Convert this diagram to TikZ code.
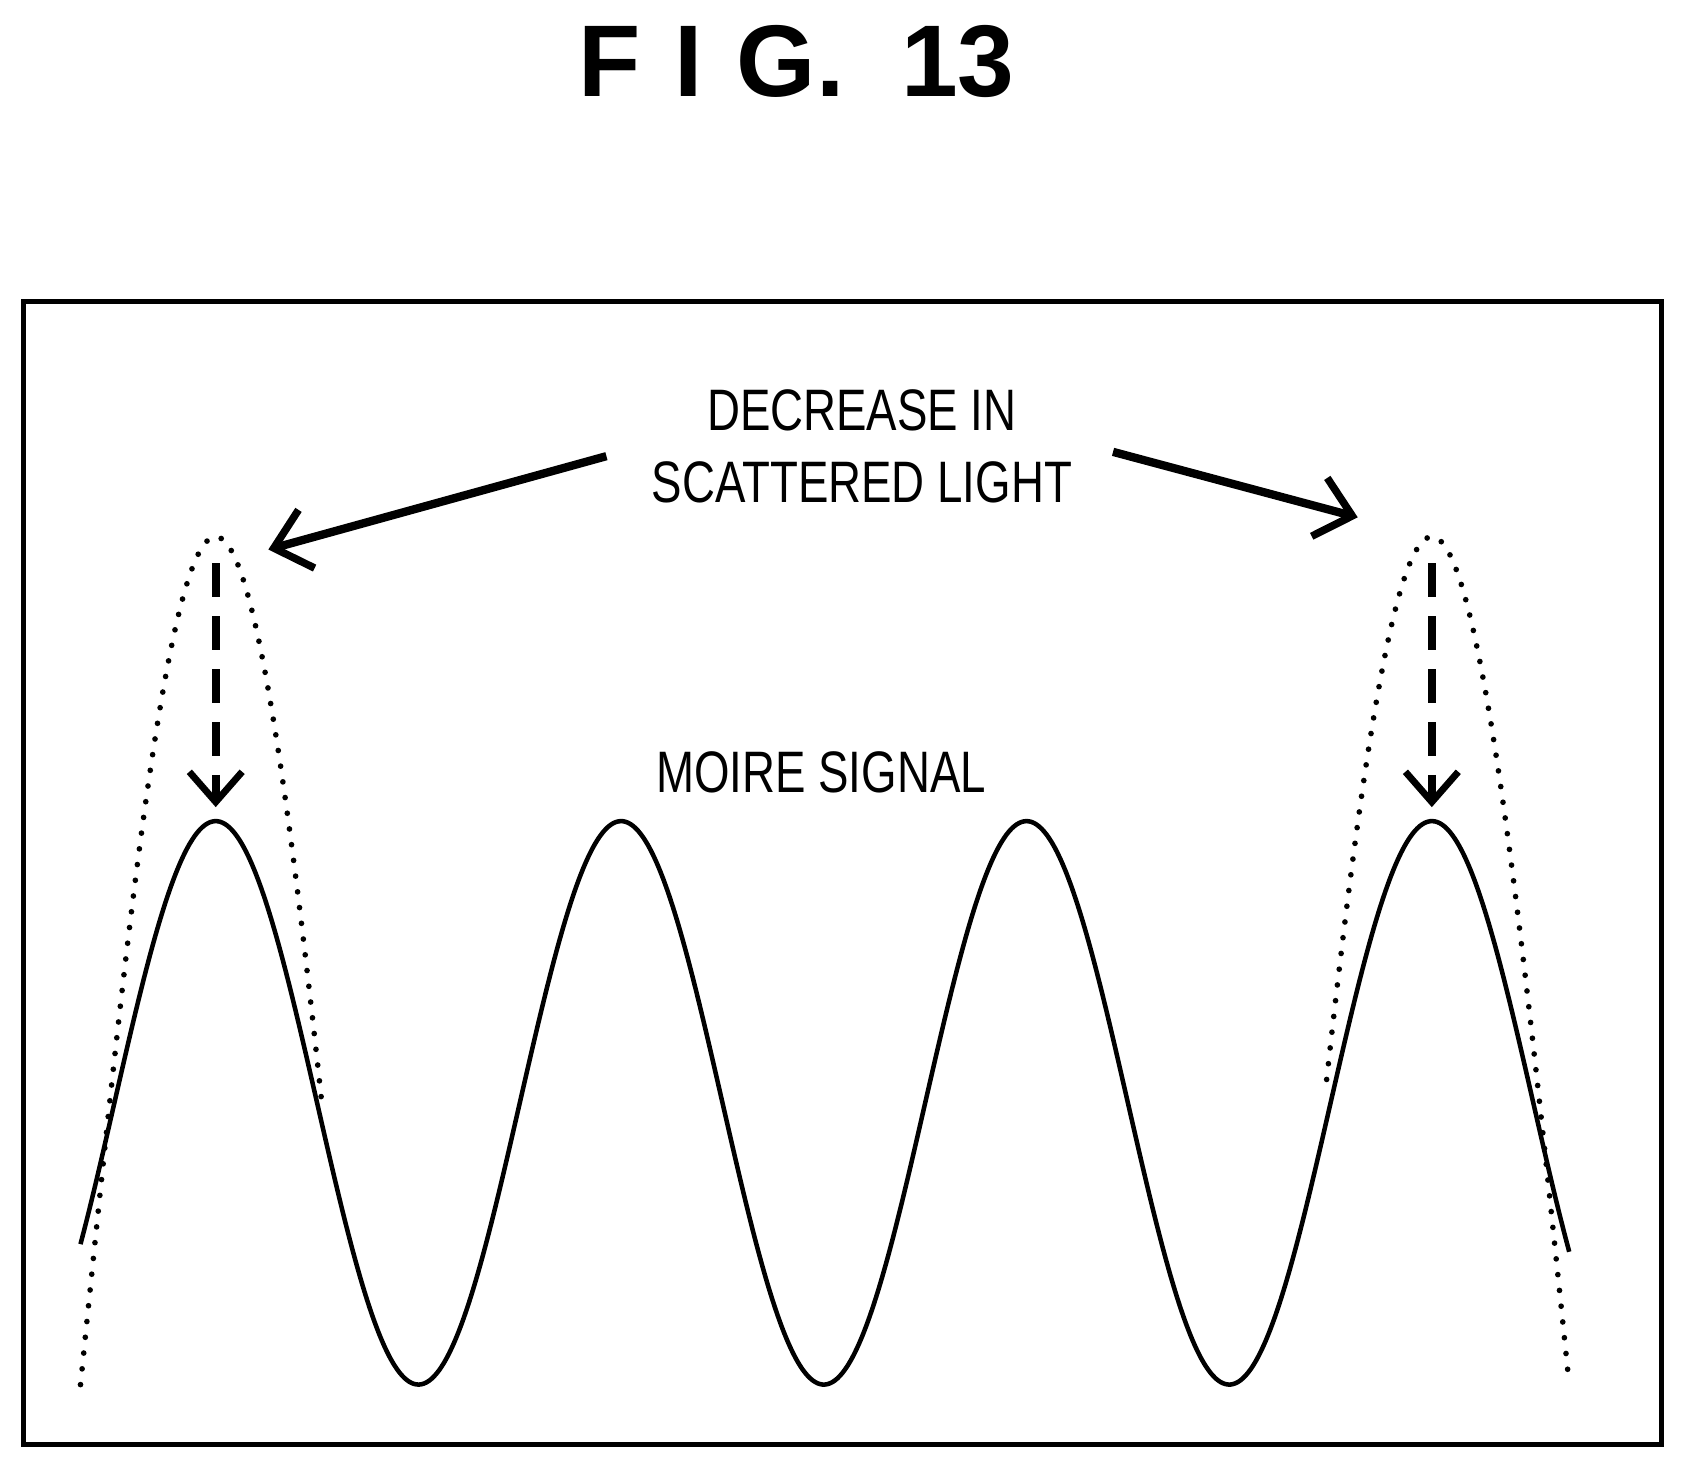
\documentclass[tikz,border=0pt]{standalone}
\usepackage{fontspec}
\setmainfont{Liberation Sans}
\usetikzlibrary{arrows.meta}

\begin{document}
\begin{tikzpicture}[%%
  x=0.01cm,y=-0.01cm,%%
  curveStyle/.style={line width=1.2pt},%%
  envelopeStyle/.style={line width=1.5pt,dash pattern=on 0pt off 4.2pt,line cap=round},%%
  pointerStyle/.style={line width=2.2pt,-{Straight Barb[length=9pt,width=16pt,line width=2pt]}},%%
  dropStyle/.style={line width=2pt,dash pattern=on 9pt off 5pt,-{Straight Barb[length=8pt,width=14pt,line width=1.8pt]}},%%
  labelStyle/.style={font=\fontsize{15.5}{19}\selectfont,xscale=0.78,align=center}%%
]
%%
\useasboundingbox (0,0) rectangle (1568,1370);
%%
%% Title.
\node[font=\fontsize{27}{30}\selectfont\bfseries] (title) at (742,57) {F\,\,I\,\,G.\ \ 13};
%% Frame.
\draw[line width=1.4pt] (22,281) rectangle (1548,1346);
%%
%% Moire signal.
\draw[curveStyle] plot[domain=75:1462,samples=300,smooth]
  (\x,{1027.5-262.5*cos((\x-201)/377.7*360)});
%% Envelopes of scattered light.
\draw[envelopeStyle] plot[domain=75:300,samples=60,smooth]
  (\x,{1290-790*cos((\x-201)/126*90)});
\draw[envelopeStyle] plot[domain=1236:1462,samples=60,smooth]
  (\x,{1290-790*cos((\x-1334)/128*90)});
%%
%% Drop of the peaks.
\coordinate (leftTop) at (201,525);
\coordinate (leftPeak) at (201,752);
\coordinate (rightTop) at (1334,525);
\coordinate (rightPeak) at (1334,752);
\draw[dropStyle] (leftTop) -- (leftPeak);
\draw[dropStyle] (rightTop) -- (rightPeak);
%%
%% Labels.
\node[labelStyle] (decrease) at (803,416) {DECREASE IN\\SCATTERED LIGHT};
\node[labelStyle] (moire) at (765,720) {MOIRE SIGNAL};
\coordinate (leftTail) at (565,425);
\coordinate (leftTip) at (250,512);
\coordinate (rightTail) at (1037,421);
\coordinate (rightTip) at (1265,482);
\draw[pointerStyle] (leftTail) -- (leftTip);
\draw[pointerStyle] (rightTail) -- (rightTip);
\end{tikzpicture}
\end{document}
